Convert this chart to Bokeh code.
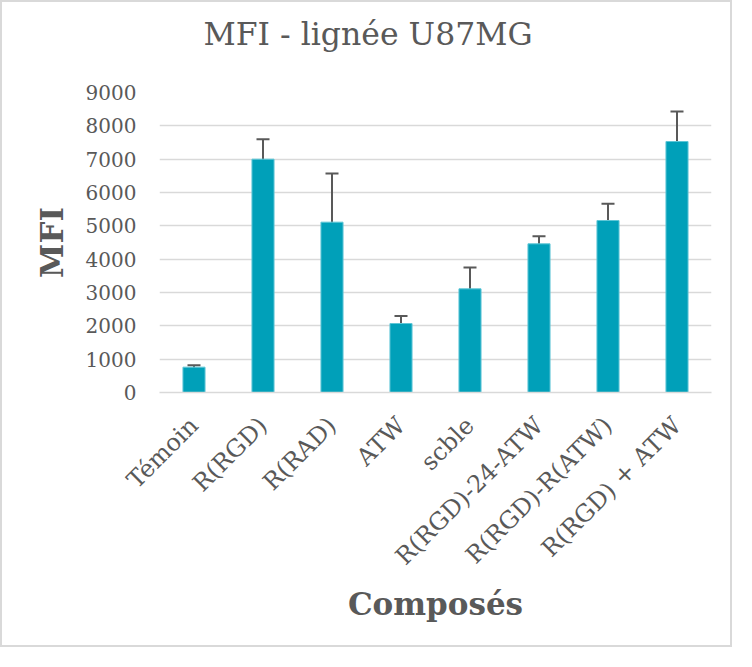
from bokeh.plotting import figure
from bokeh.models import ColumnDataSource, Whisker, FactorRange, Range1d, FixedTicker, TeeHead, Title
from bokeh.embed import file_html
from bokeh.resources import INLINE
import math

categories = ["Témoin", "R(RGD)", "R(RAD)", "ATW", "scble",
              "R(RGD)-24-ATW", "R(RGD)-R(ATW)", "R(RGD) + ATW"]
mfi = [760, 7000, 5110, 2070, 3110, 4460, 5160, 7530]
err = [60, 600, 1460, 225, 640, 225, 500, 900]
y_ticks = [0, 1000, 2000, 3000, 4000, 5000, 6000, 7000, 8000, 9000]

title_text = "MFI - lignée U87MG"
x_title = "Composés"
y_title = "MFI"

src = ColumnDataSource(dict(
    cat=categories, v=mfi,
    lo=[a - b for a, b in zip(mfi, err)],
    hi=[a + b for a, b in zip(mfi, err)],
))

GRAY = "#595959"
GRID = "#d9d9d9"
BAR = "#00a0b9"

p = figure(width=732, height=647, output_backend="svg", toolbar_location=None,
           x_range=FactorRange(*categories, range_padding=0),
           y_range=Range1d(0, 9000),
           min_border_left=157, min_border_right=23, min_border_top=90, min_border_bottom=257,
           styles={"border": "2px solid #d9d9d9"})
p.outline_line_color = None
p.background_fill_color = "white"
p.border_fill_color = "white"

# spacer between frame and title (keeps the title higher up)
p.add_layout(Title(text=" ", text_font="DejaVu Serif", text_font_size="24px", standoff=10), "above")

p.title.text = title_text
p.title.align = "left"
p.title.offset = 44
p.title.standoff = 0
p.title.text_font = "DejaVu Serif"
p.title.text_font_size = "31.5px"
p.title.text_font_style = "normal"
p.title.text_color = GRAY

p.vbar(x="cat", top="v", width=0.32, source=src, fill_color=BAR, line_color="#5fc6d6", line_width=1)
w = Whisker(base="cat", lower="lo", upper="hi", source=src,
            line_color=GRAY, line_width=2,
            upper_head=TeeHead(size=13, line_color=GRAY, line_width=2),
            lower_head=TeeHead(size=13, line_color=GRAY, line_width=2))
p.add_layout(w)

p.yaxis.ticker = FixedTicker(ticks=y_ticks)
p.yaxis.axis_line_color = None
p.yaxis.major_tick_line_color = None
p.yaxis.minor_tick_line_color = None
p.yaxis.major_label_text_font = "DejaVu Serif"
p.yaxis.major_label_text_font_size = "20px"
p.yaxis.major_label_text_color = GRAY
p.yaxis.major_label_standoff = 17
p.yaxis.axis_label = y_title
p.yaxis.axis_label_text_font = "DejaVu Serif"
p.yaxis.axis_label_text_font_style = "bold"
p.yaxis.axis_label_text_font_size = "31px"
p.yaxis.axis_label_text_color = GRAY
p.yaxis.axis_label_standoff = 13

p.xaxis.axis_line_color = GRID
p.xaxis.axis_line_width = 1.5
p.xaxis.major_tick_line_color = None
p.xaxis.minor_tick_line_color = None
p.xaxis.major_label_orientation = math.pi / 4
p.xaxis.major_label_text_font = "DejaVu Serif"
p.xaxis.major_label_text_font_size = "24px"
p.xaxis.major_label_text_color = GRAY
p.xaxis.major_label_standoff = 23
p.xaxis.axis_label = x_title
p.xaxis.axis_label_text_font = "DejaVu Serif"
p.xaxis.axis_label_text_font_style = "bold"
p.xaxis.axis_label_text_font_size = "31px"
p.xaxis.axis_label_text_color = GRAY
p.xaxis.axis_label_standoff = 3

p.xgrid.grid_line_color = None
p.ygrid.grid_line_color = GRID
p.ygrid.grid_line_width = 1.5
p.ygrid.ticker = FixedTicker(ticks=y_ticks)

open("out.html", "w").write(file_html(p, INLINE))
